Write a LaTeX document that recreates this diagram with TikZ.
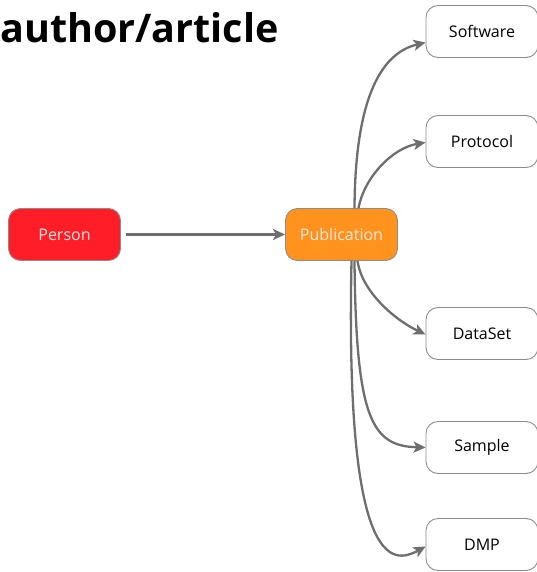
\documentclass[tikz,border=0pt]{standalone}
\usepackage{fontspec}
\setmainfont{Open Sans}
\usetikzlibrary{arrows.meta}
\definecolor{edgegray}{HTML}{6E6E6E}
\definecolor{boxgray}{HTML}{8C8C8C}
\definecolor{personred}{HTML}{FF1D27}
\definecolor{puborange}{HTML}{FF931E}
\definecolor{lighttext}{HTML}{FFE6E0}
\tikzset{
  x=1pt, y=-1pt,
  entity/.style={draw=boxgray, line width=0.9pt, rounded corners=12pt,
    minimum width=112pt, minimum height=52pt, inner sep=0pt,
    font=\fontsize{16}{19}\selectfont},
  target/.style={entity, fill=white, text=black},
  link/.style={draw=edgegray, line width=2.3pt,
    -{Stealth[length=12pt,width=11pt,inset=3pt]}},
}
\begin{document}
\begin{tikzpicture}
\useasboundingbox (0,0) rectangle (537,572);
\node[anchor=base west, inner sep=0pt, font=\bfseries\fontsize{39.5}{44}\selectfont] (title) at (0,43) {author/article};

\node[entity, fill=personred, text=lighttext] (person) at (64.5,234.5) {Person};
\node[entity, fill=puborange, text=lighttext] (pub) at (341.5,234.5) {Publication};

\node[target] (software) at (482,31.5) {Software};
\node[target] (protocol) at (482,141.5) {Protocol};
\node[target] (dataset) at (482,333.5) {DataSet};
\node[target] (sample) at (482,447.5) {Sample};
\node[target] (dmp) at (482,544.5) {DMP};

\draw[link] ([xshift=5pt]person.east) -- (pub.west);

\draw[link] ([xshift=13pt]pub.north) .. controls (355,120) and (372,55) .. ([yshift=-11pt]software.west);
\draw[link] ([xshift=17pt]pub.north) .. controls (364,178) and (392,148) .. ([yshift=-1pt]protocol.west);
\draw[link] ([xshift=16pt]pub.south) .. controls (362,292) and (395,320) .. ([yshift=-1pt]dataset.west);
\draw[link] ([xshift=13pt]pub.south) .. controls (356,420) and (372,446) .. (sample.west);
\draw[link] ([xshift=10pt]pub.south) .. controls (345,570) and (392,565) .. ([yshift=-2pt]dmp.west);
\end{tikzpicture}
\end{document}
